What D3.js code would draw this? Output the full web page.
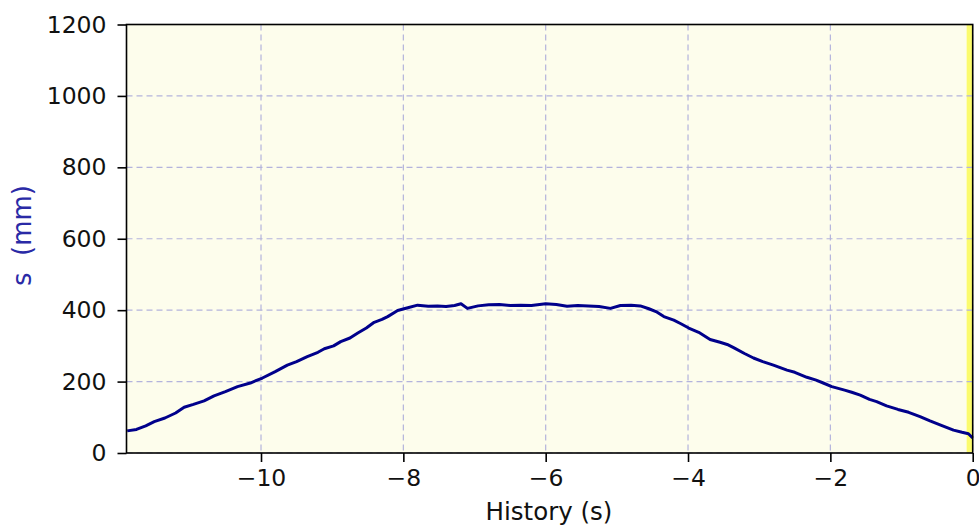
<!DOCTYPE html>
<html>
<head>
<meta charset="utf-8">
<script src="https://cdn.jsdelivr.net/npm/d3@7"></script>
<style>
  body { margin: 0; background: #fff; }
  svg { display: block; font-family: "DejaVu Sans", sans-serif; }
</style>
</head>
<body>
<svg width="979" height="528"></svg>
<script>
// history time (s) and displacement (mm)
var times = [-11.88, -11.75, -11.62, -11.5, -11.35, -11.2, -11.08, -10.95, -10.8, -10.66,
    -10.5, -10.33, -10.15, -9.98, -9.8, -9.63, -9.5, -9.35, -9.2, -9.11,
    -8.98, -8.88, -8.75, -8.64, -8.52, -8.41, -8.3, -8.22, -8.08, -7.95,
    -7.8, -7.65, -7.52, -7.4, -7.28, -7.19, -7.1, -6.95, -6.8, -6.65,
    -6.5, -6.35, -6.2, -6.0, -5.85, -5.7, -5.55, -5.4, -5.25, -5.09,
    -4.95, -4.8, -4.67, -4.55, -4.45, -4.34, -4.2, -4.1, -3.99, -3.85,
    -3.69, -3.55, -3.45, -3.36, -3.2, -3.08, -2.95, -2.8, -2.61, -2.5,
    -2.33, -2.2, -2.1, -1.98, -1.8, -1.7, -1.58, -1.45, -1.35, -1.21,
    -1.05, -0.9, -0.74, -0.6, -0.45, -0.27, -0.15, -0.06, 0];
var values = [62, 66, 76, 88, 98, 112, 128, 136, 146, 160,
    172, 186, 196, 210, 228, 246, 256, 270, 282, 292,
    300, 312, 322, 336, 350, 366, 374, 382, 399, 406,
    414, 411, 412, 410, 413, 418, 405, 412, 415, 416,
    413, 414, 413, 418, 416, 411, 413, 412, 410, 405,
    413, 414, 412, 404, 396, 382, 372, 362, 350, 338,
    318, 310, 304, 295, 278, 266, 256, 246, 232, 226,
    212, 204, 196, 186, 176, 170, 162, 150, 144, 132,
    122, 114, 102, 90, 78, 64, 58, 54, 42];
var xTicks = [-10, -8, -6, -4, -2, 0];
var yTicks = [0, 200, 400, 600, 800, 1000, 1200];
var xDomain = [-11.89, 0];
var yDomain = [0, 1200];
var highlight = [-0.085, 0];

var svg = d3.select('svg');
var padding = { t: 24.5, r: 6.3, b: 75, l: 126.5 };
var chartWidth = +svg.attr('width') - padding.l - padding.r;
var chartHeight = +svg.attr('height') - padding.t - padding.b;

var xScale = d3.scaleLinear().domain(xDomain).range([0, chartWidth]);
var yScale = d3.scaleLinear().domain(yDomain).range([chartHeight, 0]);

var chartG = svg.append('g')
    .attr('transform', 'translate(' + [padding.l, padding.t] + ')');

// background
chartG.append('rect')
    .attr('width', chartWidth)
    .attr('height', chartHeight)
    .attr('fill', '#fdfdec');

// highlighted window at the right edge
chartG.append('rect')
    .attr('x', xScale(highlight[0]))
    .attr('width', xScale(highlight[1]) - xScale(highlight[0]))
    .attr('height', chartHeight)
    .attr('fill', '#fbfb6e');

// grid
chartG.selectAll('.vgrid')
    .data(xTicks)
    .enter().append('line')
    .attr('class', 'vgrid')
    .attr('x1', d => xScale(d)).attr('x2', d => xScale(d))
    .attr('y1', 0).attr('y2', chartHeight)
    .attr('stroke', '#b4b4dc').attr('stroke-width', 1.2)
    .attr('stroke-dasharray', '6,4');

chartG.selectAll('.hgrid')
    .data(yTicks)
    .enter().append('line')
    .attr('class', 'hgrid')
    .attr('x1', 0).attr('x2', chartWidth)
    .attr('y1', d => yScale(d)).attr('y2', d => yScale(d))
    .attr('stroke', '#b4b4dc').attr('stroke-width', 1.2)
    .attr('stroke-dasharray', '6,4');

// data line
var points = times.map((t, i) => [t, values[i]]);
chartG.append('path')
    .datum(points)
    .attr('fill', 'none')
    .attr('stroke', '#00008b')
    .attr('stroke-width', 3)
    .attr('stroke-linejoin', 'round')
    .attr('d', d3.line().x(d => xScale(d[0])).y(d => yScale(d[1])));

// frame
chartG.append('rect')
    .attr('width', chartWidth)
    .attr('height', chartHeight)
    .attr('fill', 'none')
    .attr('stroke', '#000')
    .attr('stroke-width', 1.6);

// axes
var xAxis = chartG.append('g')
    .attr('transform', 'translate(0,' + chartHeight + ')')
    .call(d3.axisBottom(xScale).tickValues(xTicks).tickSize(9).tickPadding(7)
        .tickFormat(d => d < 0 ? '\u2212' + Math.abs(d) : d));
var yAxis = chartG.append('g')
    .call(d3.axisLeft(yScale).tickValues(yTicks).tickSize(9).tickPadding(11)
        .tickFormat(d3.format('d')));

[xAxis, yAxis].forEach(function(ax) {
    ax.select('.domain').remove();
    ax.selectAll('line').attr('stroke', '#000').attr('stroke-width', 1.6);
    ax.selectAll('text')
        .attr('fill', '#111')
        .style('font-size', '23.5px')
        .style('font-family', '"DejaVu Sans", sans-serif');
});

// axis titles
svg.append('text')
    .attr('x', 549)
    .attr('y', 520)
    .attr('text-anchor', 'middle')
    .style('font-size', '24.5px')
    .attr('fill', '#111')
    .text('History (s)');

svg.append('text')
    .attr('transform', 'translate(31,235.5)rotate(-90)')
    .attr('text-anchor', 'middle')
    .style('font-size', '26px')
    .attr('fill', '#2a2aa6')
    .attr('xml:space', 'preserve')
    .style('white-space', 'pre')
    .text('s  (mm)');
</script>
</body>
</html>
